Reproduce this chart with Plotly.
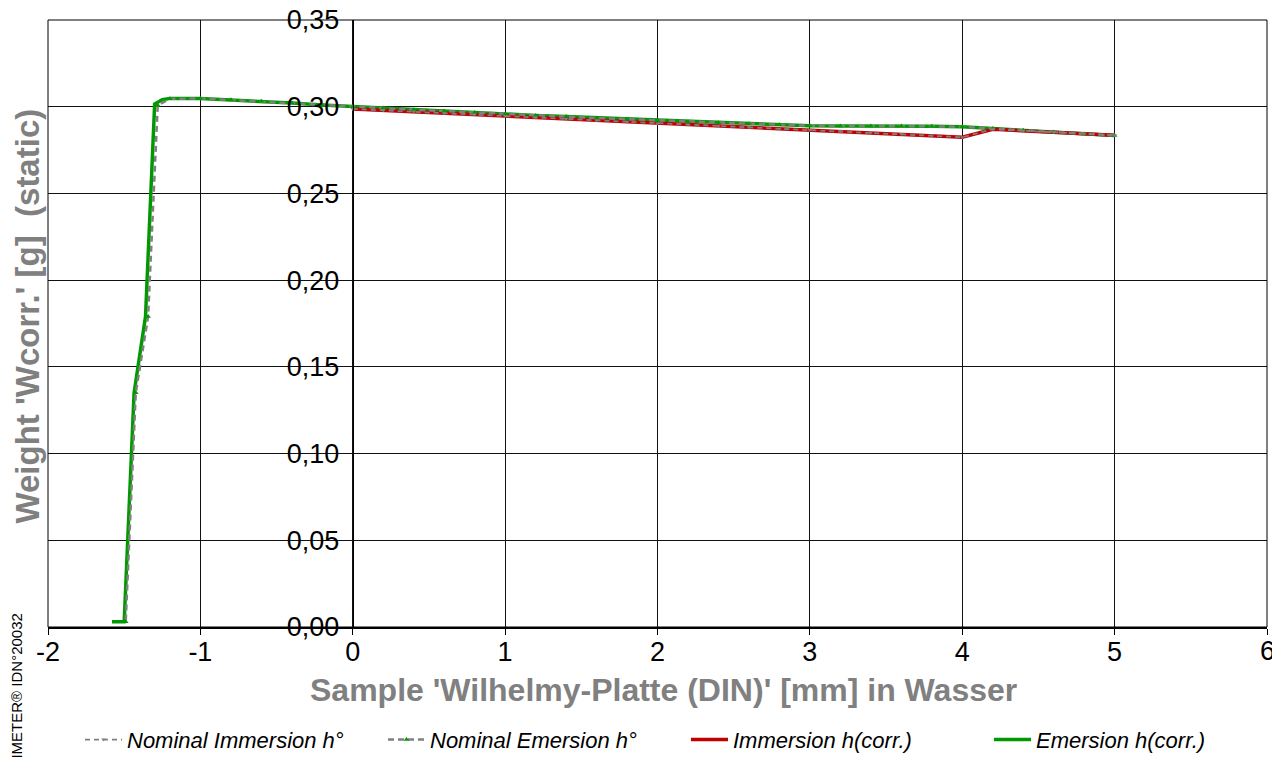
import plotly.graph_objects as go

# ---- data ----
emersion_x = [5.0, 4.8, 4.6, 4.4, 4.2, 4.0, 3.8, 3.6, 3.4, 3.2, 3.0, 2.8, 2.6, 2.4, 2.2, 2.0,
              1.8, 1.6, 1.4, 1.2, 1.0, 0.8, 0.6, 0.4, 0.2, 0.0, -0.2, -0.4, -0.6, -0.8, -1.0,
              -1.2, -1.25, -1.30, -1.36, -1.435, -1.50, -1.58]
emersion_y = [0.2834, 0.2844, 0.2854, 0.2864, 0.2874, 0.2884, 0.2887, 0.2889, 0.2889, 0.2889,
              0.2890, 0.2896, 0.2902, 0.2908, 0.2914, 0.2920, 0.2928, 0.2935, 0.2943, 0.2950,
              0.2958, 0.2966, 0.2975, 0.2983, 0.2992, 0.3000, 0.3010, 0.3021, 0.3031, 0.3040,
              0.3047, 0.3048, 0.3040, 0.3016, 0.1790, 0.1350, 0.0030, 0.0030]

immersion_x = [0.0, 0.2, 0.4, 0.6, 0.8, 1.0, 1.2, 1.4, 1.6, 1.8, 2.0, 2.2, 2.4, 2.6, 2.8,
               3.0, 3.2, 3.4, 3.6, 3.8, 4.0, 4.2, 4.4, 4.6, 4.8, 5.0]
immersion_y = [0.2987, 0.2979, 0.2971, 0.2963, 0.2955, 0.2947, 0.2938, 0.2929, 0.2920, 0.2912,
               0.2903, 0.2896, 0.2888, 0.2881, 0.2873, 0.2866, 0.2858, 0.2851, 0.2843, 0.2834,
               0.2824, 0.2870, 0.2862, 0.2854, 0.2845, 0.2836]

nominal_emersion_x = [5.0, 4.8, 4.6, 4.4, 4.2, 4.0, 3.8, 3.6, 3.4, 3.2, 3.0, 2.8, 2.6, 2.4, 2.2,
                      2.0, 1.8, 1.6, 1.4, 1.2, 1.0, 0.8, 0.6, 0.4, 0.2, 0.0, -0.2, -0.4, -0.6,
                      -0.8, -1.0, -1.2, -1.28, -1.343, -1.424, -1.49]
nominal_emersion_y = [0.2834, 0.2844, 0.2854, 0.2864, 0.2874, 0.2884, 0.2887, 0.2889, 0.2889,
                      0.2889, 0.2890, 0.2896, 0.2902, 0.2908, 0.2914, 0.2920, 0.2928, 0.2935,
                      0.2943, 0.2950, 0.2958, 0.2966, 0.2975, 0.2983, 0.2992, 0.3000, 0.3010,
                      0.3021, 0.3031, 0.3040, 0.3047, 0.3046, 0.3008, 0.1790, 0.1350, 0.0030]

nominal_immersion_x = [0.0, 0.2, 0.4, 0.6, 0.8, 1.0, 1.2, 1.4, 1.6, 1.8, 2.0, 2.2, 2.4, 2.6,
                       2.8, 3.0, 3.2, 3.4, 3.6, 3.8, 4.0, 4.2, 4.4, 4.6, 4.8, 5.0]
nominal_immersion_y = [0.2987, 0.2979, 0.2971, 0.2963, 0.2955, 0.2947, 0.2938, 0.2929, 0.2920,
                       0.2912, 0.2903, 0.2896, 0.2888, 0.2881, 0.2873, 0.2866, 0.2858, 0.2851,
                       0.2843, 0.2834, 0.2824, 0.2870, 0.2862, 0.2854, 0.2845, 0.2836]

x_tick_vals = [-2, -1, 0, 1, 2, 3, 4, 5, 6]
x_tick_text = ["-2", "-1", "0", "1", "2", "3", "4", "5", "6"]
y_tick_vals = [0.0, 0.05, 0.10, 0.15, 0.20, 0.25, 0.30, 0.35]
y_tick_text = ["0,00", "0,05", "0,10", "0,15", "0,20", "0,25", "0,30", "0,35"]

x_title = "Sample 'Wilhelmy-Platte (DIN)' [mm] in Wasser"
y_title = "Weight 'Wcorr.' [g]&nbsp; (static)"
watermark = "IMETER® IDN°20032"

GRAY = "#808080"
RED = "#C00000"
GREEN = "#009900"

# plot-area pixel geometry (for placing text in paper coordinates)
PL, PR, PT, PB = 48, 1267, 17, 627
def px_x(px):
    return (px - PL) / (PR - PL)
def px_y(py):
    return (PB - py) / (PB - PT)

fig = go.Figure()

fig.add_trace(go.Scatter(x=emersion_x, y=emersion_y, mode="lines", name="Emersion h(corr.)",
                         line=dict(color=GREEN, width=3.5), legend="legend4"))
fig.add_trace(go.Scatter(x=immersion_x, y=immersion_y, mode="lines", name="Immersion h(corr.)",
                         line=dict(color=RED, width=3.5), legend="legend3"))
fig.add_trace(go.Scatter(x=nominal_emersion_x, y=nominal_emersion_y, mode="lines+markers",
                         name="Nominal Emersion h°",
                         line=dict(color=GRAY, width=2.5, dash="6px,4px"),
                         marker=dict(symbol="triangle-up", size=5, color=GREEN),
                         legend="legend2"))
fig.add_trace(go.Scatter(x=nominal_immersion_x, y=nominal_immersion_y, mode="lines+markers",
                         name="Nominal Immersion h°",
                         line=dict(color=GRAY, width=1.8, dash="5px,4px"),
                         marker=dict(symbol="triangle-down", size=4, color=GRAY),
                         legend="legend", showlegend=True))

leg_font = dict(family="Liberation Sans, Arial", size=22, color="black", style="italic")
leg_common = dict(xref="container", yref="container", yanchor="middle", xanchor="left",
                  y=0.033, font=leg_font, bgcolor="rgba(0,0,0,0)", borderwidth=0,
                  itemwidth=37, orientation="h", visible=True)

fig.update_layout(
    width=1272, height=765,
    showlegend=True,
    margin=dict(l=PL, r=1272 - PR, t=PT, b=765 - PB),
    paper_bgcolor="white", plot_bgcolor="white",
    font=dict(family="Liberation Sans, Arial", color="black"),
    legend=dict(x=80 / 1272, **leg_common),
    legend2=dict(x=383 / 1272, **leg_common),
    legend3=dict(x=686 / 1272, **leg_common),
    legend4=dict(x=989 / 1272, **leg_common),
    xaxis=dict(range=[-2, 6], tickvals=x_tick_vals, ticktext=x_tick_text,
               tickfont=dict(size=27, color="black"),
               showgrid=True, gridcolor="#111111", gridwidth=1,
               ticks="outside", ticklen=6, tickcolor="black",
               ticklabelstandoff=-6,
               showline=True, linecolor="black", linewidth=2,
               zeroline=False),
    yaxis=dict(range=[0, 0.35], tickvals=y_tick_vals, ticktext=y_tick_text,
               tickfont=dict(size=27, color="black"),
               showgrid=True, gridcolor="#111111", gridwidth=1,
               anchor="free", position=0.25,
               ticks="", ticklabelstandoff=8,
               showline=True, linecolor="black", linewidth=1,
               zeroline=False),
    shapes=[dict(type="rect", xref="paper", yref="paper", x0=0, x1=1, y0=0, y1=1,
                 line=dict(color="black", width=1), layer="above")],
    annotations=[
        # last x tick label, which sits on the page edge (partly cut, as in the reference)
        dict(text=x_tick_text[-1], xref="x", yref="paper", x=x_tick_vals[-1], y=px_y(634),
             xanchor="center", yanchor="top", showarrow=False,
             font=dict(family="Liberation Sans, Arial", size=27, color="black")),
        dict(text=x_title, xref="paper", yref="paper", x=px_x(663), y=px_y(690),
             xanchor="center", yanchor="middle", showarrow=False,
             font=dict(family="Liberation Sans, Arial", size=32, color=GRAY, weight="bold")),
        dict(text=y_title, xref="paper", yref="paper", x=px_x(28), y=px_y(315),
             xanchor="center", yanchor="middle", showarrow=False, textangle=-90,
             font=dict(family="Liberation Sans, Arial", size=33, color=GRAY, weight="bold")),
        dict(text=watermark, xref="paper", yref="paper", x=px_x(17), y=px_y(612),
             xanchor="center", yanchor="top", showarrow=False, textangle=-90,
             font=dict(family="Liberation Sans, Arial", size=15, color="black")),
    ],
)

fig.write_html("out.html", config={"displayModeBar": False},
               post_script="document.body.style.margin='0';window.dispatchEvent(new Event('resize'));")
